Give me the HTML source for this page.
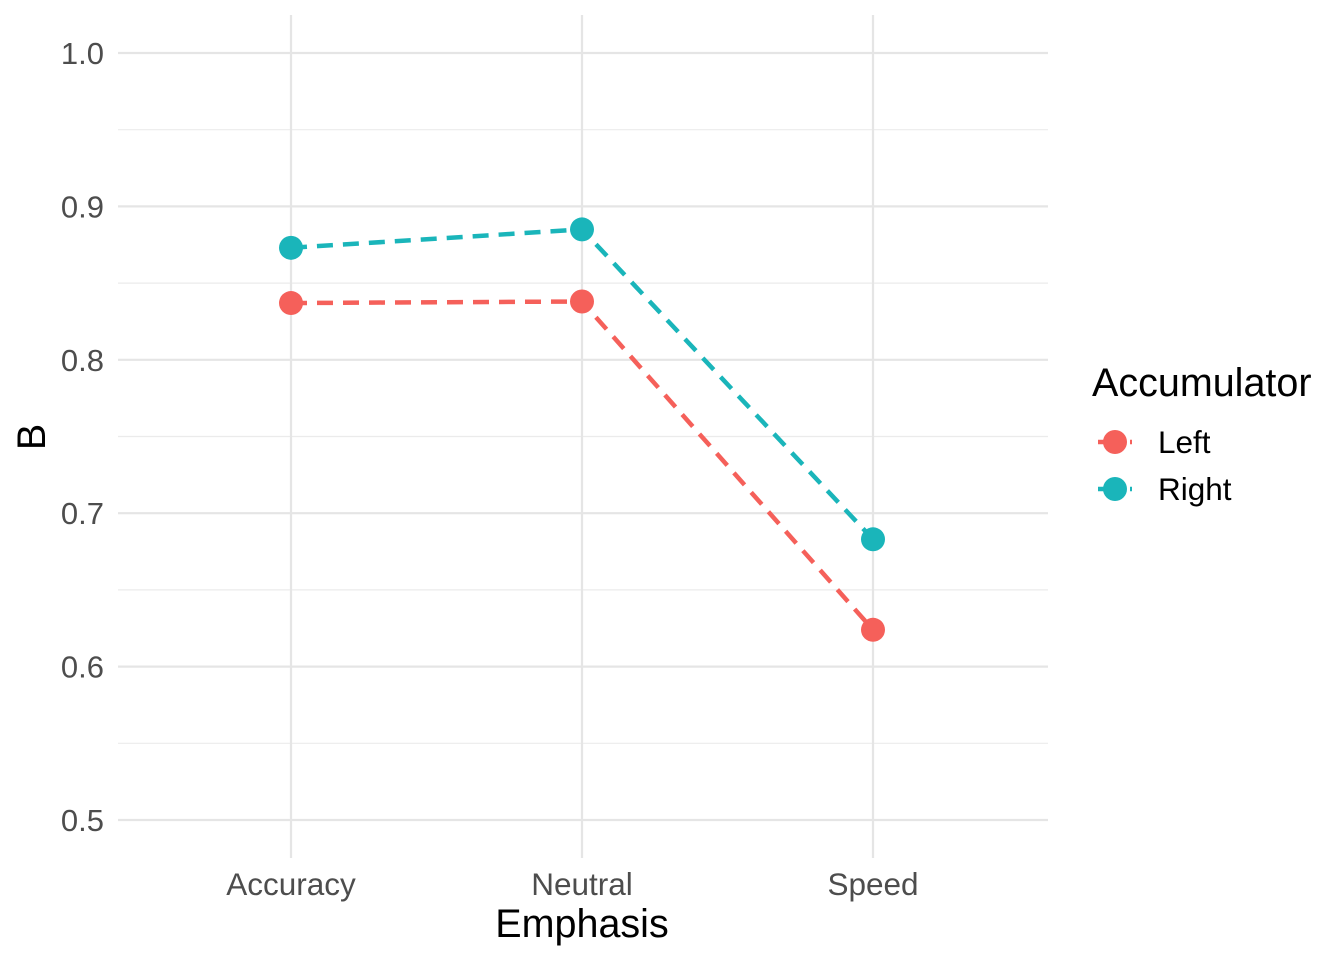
<!DOCTYPE html>
<html><head><meta charset="utf-8"><style>body{margin:0;background:#fff}svg{display:block}</style></head>
<body>
<svg id="chart" width="1344" height="960" xmlns="http://www.w3.org/2000/svg" font-family="Liberation Sans, sans-serif">
<g id="grid"></g>
<g id="series"></g>
<g id="axes"></g>
<text x="582" y="937" font-size="39.5" text-anchor="middle" fill="#000">Emphasis</text>
<text transform="translate(45,437) rotate(-90)" font-size="39.5" text-anchor="middle" fill="#000">B</text>
<g>
<text x="1092" y="396" font-size="39.5" fill="#000">Accumulator</text>
<g>
<line x1="1098" y1="442" x2="1132" y2="442" stroke="#F5605A" stroke-width="4.5" stroke-dasharray="10,6"/>
<circle cx="1115" cy="442" r="12" fill="#F5605A"/>
<text x="1158" y="453" font-size="31.5" fill="#000">Left</text></g>
<g>
<line x1="1098" y1="489" x2="1132" y2="489" stroke="#1AB5BA" stroke-width="4.5" stroke-dasharray="10,6"/>
<circle cx="1115" cy="489" r="12" fill="#1AB5BA"/>
<text x="1158" y="500" font-size="31.5" fill="#000">Right</text></g>
</g>
</svg>
<script>
const categories = ["Accuracy","Neutral","Speed"];
const leftValues = [0.837, 0.838, 0.624];
const rightValues = [0.873, 0.885, 0.683];
const yTicks = [0.5,0.6,0.7,0.8,0.9,1.0];
const yTickLabels = ["0.5","0.6","0.7","0.8","0.9","1.0"];
const NS="http://www.w3.org/2000/svg";
const x0=118,x1=1048,yt=15,yb=858;
const xs=i=>291+i*291;
const ys=v=>820-(v-0.5)*1534;
function mk(tag,attrs,parent){const e=document.createElementNS(NS,tag);for(const k in attrs)e.setAttribute(k,attrs[k]);parent.appendChild(e);return e;}
const grid=document.getElementById('grid'),axes=document.getElementById('axes'),ser=document.getElementById('series');
for(let i=0;i<yTicks.length-1;i++){const v=(yTicks[i]+yTicks[i+1])/2;
const l=mk('line',{x1:x0,x2:x1,y1:ys(v),y2:ys(v),stroke:'#ebebeb','stroke-width':1.2},grid);
}
yTicks.forEach((v,i)=>{const l=mk('line',{x1:x0,x2:x1,y1:ys(v),y2:ys(v),stroke:'#e5e5e5','stroke-width':2.2},grid);

const t=mk('text',{x:104,y:ys(v)+11,'font-size':31,'text-anchor':'end',fill:'#4d4d4d'},axes);t.textContent=yTickLabels[i];
});
categories.forEach((c,i)=>{const l=mk('line',{x1:xs(i),x2:xs(i),y1:yt,y2:yb,stroke:'#e5e5e5','stroke-width':2.2},grid);

const t=mk('text',{x:xs(i),y:895,'font-size':31.5,'text-anchor':'middle',fill:'#4d4d4d'},axes);t.textContent=c;
});
function draw(vals,color,name){
const p=mk('polyline',{points:vals.map((v,i)=>xs(i)+','+ys(v)).join(' '),fill:'none',stroke:color,'stroke-width':4.5,'stroke-dasharray':'16,10'},ser);

vals.forEach((v,i)=>{const c=mk('circle',{cx:xs(i),cy:ys(v),r:12,fill:color},ser);
});}
draw(leftValues,'#F5605A','left');
draw(rightValues,'#1AB5BA','right');
</script>
</body></html>
